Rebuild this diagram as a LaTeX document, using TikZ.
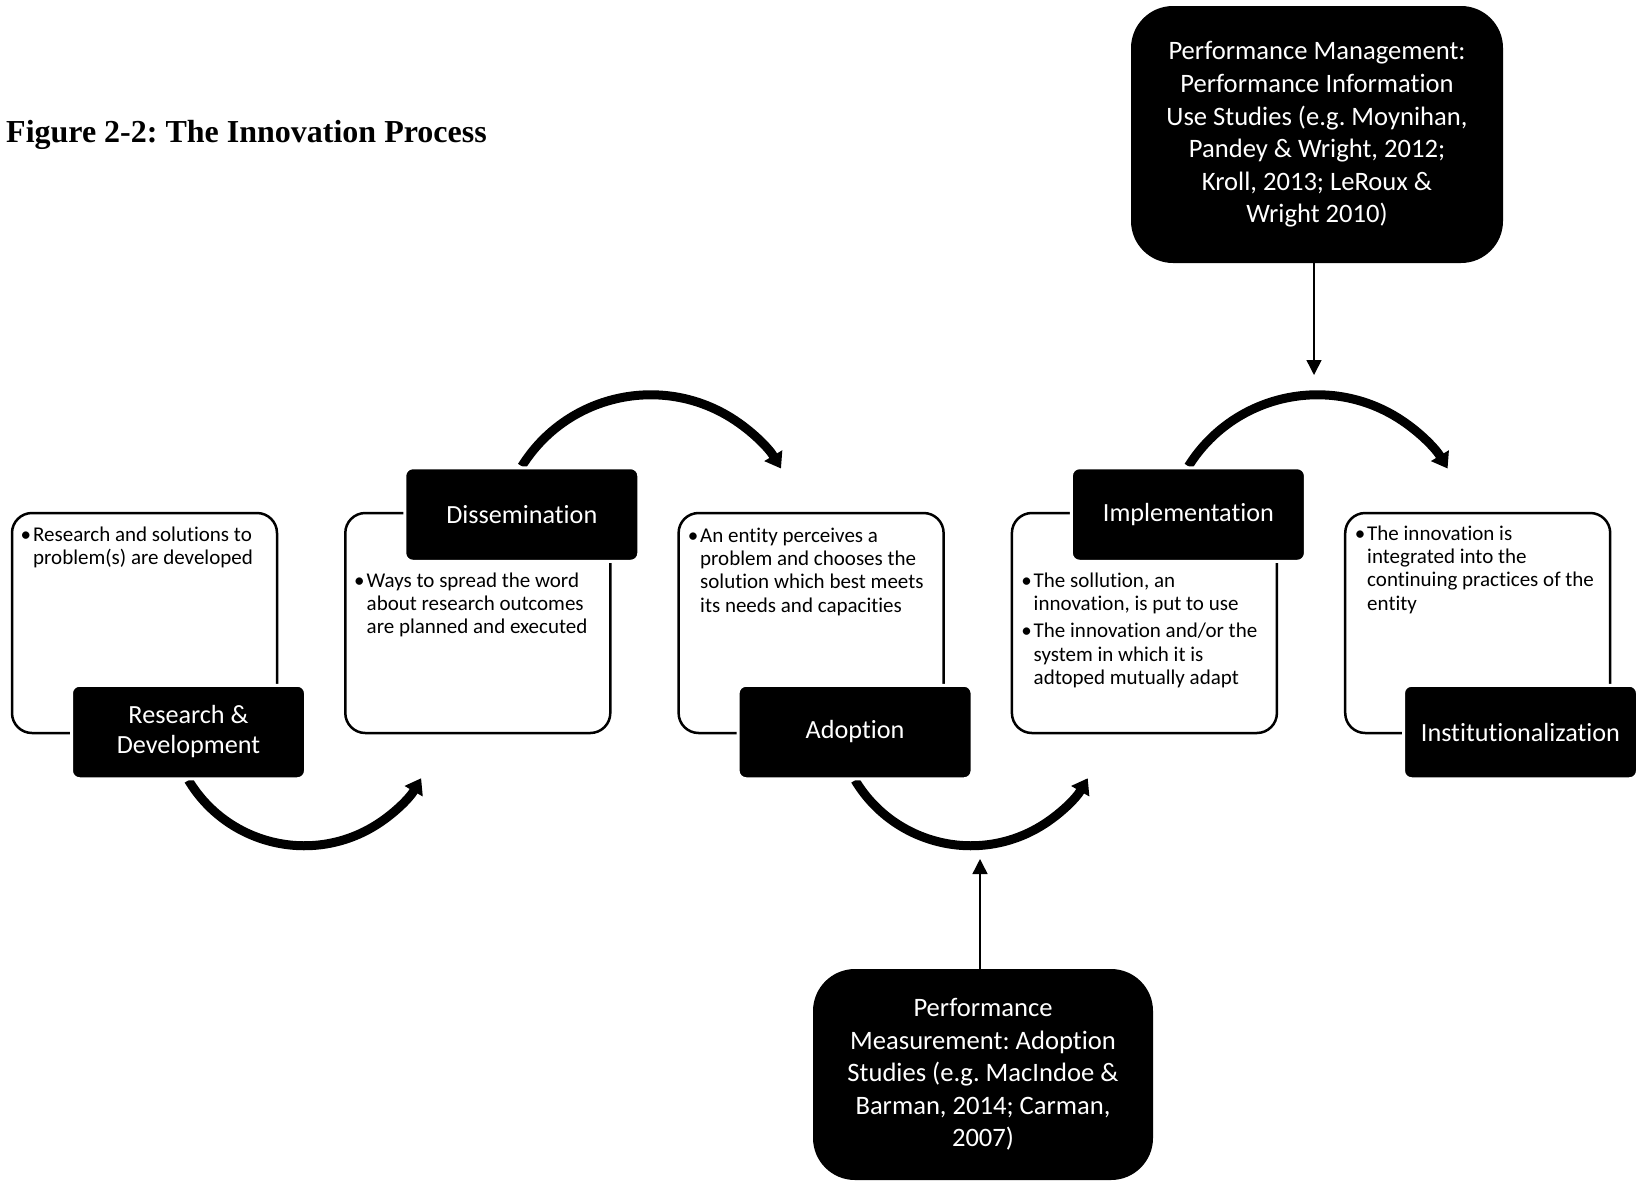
\documentclass[tikz,border=0pt]{standalone}
\usepackage{fontspec}
\setmainfont{Carlito}[Ligatures=NoCommon]
\newfontfamily\titleserif{Liberation Serif}
\usetikzlibrary{arrows.meta,backgrounds}
\newcommand\stagebullet{\llap{•\hspace{2pt}}}
\frenchspacing
\begin{document}
\begin{tikzpicture}[x={(1pt,0pt)}, y={(0pt,-1pt)},
  stagebox/.style={draw=black, line width=2.5pt, rounded corners=20pt, minimum width=265pt, minimum height=220pt, inner sep=0pt},
  stagelabel/.style={fill=black, draw=white, line width=3pt, rounded corners=8pt, minimum width=234pt, minimum height=93.5pt, text=white, align=center, font=\fontsize{26.2}{30}\selectfont, inner sep=0pt},
  bodytext/.style={anchor=north west, inner sep=0pt, font=\fontsize{21}{23.3}\selectfont},
  bigbox/.style={fill=black, rounded corners=42pt, text=white, align=center, font=\fontsize{26.6}{32.6}\selectfont, inner sep=0pt},
  flowarrow/.style={line width=9pt, -{Triangle[width=20pt,length=15pt]}},
  thinarrow/.style={line width=1.5pt, -{Triangle[width=15pt,length=15pt]}}
]
\useasboundingbox (0,0) rectangle (1637,1184);

% title
\node[anchor=base west, inner sep=0pt, font={\titleserif\bfseries\fontsize{32}{38}\selectfont}] (title) at (6,142) {Figure 2-2: The Innovation Process};

% white stage boxes
\node[stagebox] (rdbox) at (144.5,623) {};
\node[stagebox] (dibox) at (477.8,623) {};
\node[stagebox] (adbox) at (811.1,623) {};
\node[stagebox] (imbox) at (1144.4,623) {};
\node[stagebox] (inbox) at (1477.7,623) {};

% black labels
\node[stagelabel] (rd) at (188.5,732) {Research \&\\Development};
\node[stagelabel] (di) at (521.8,514.5) {Dissemination};
\node[stagelabel] (ad) at (855.1,732) {Adoption};
\node[stagelabel] (im) at (1188.4,514.5) {Implementation};
\node[stagelabel] (in) at (1520.5,732) {Institutionalization};

% body texts
\node[bodytext] (rdtext) at (33,524.7) {\begin{tabular}{@{}l@{}}\stagebullet Research and solutions to\\problem(s) are developed\end{tabular}};
\node[bodytext] (ditext) at (366.5,570.7) {\begin{tabular}{@{}l@{}}\stagebullet Ways to spread the word\\about research outcomes\\are planned and executed\end{tabular}};
\node[bodytext] (adtext) at (700,525.7) {\begin{tabular}{@{}l@{}}\stagebullet An entity perceives a\\problem and chooses the\\solution which best meets\\its needs and capacities\end{tabular}};
\node[bodytext] (imtext) at (1033.5,570.7) {\begin{tabular}{@{}l@{}}\stagebullet The sollution, an\\innovation, is put to use\\[4pt]\stagebullet The innovation and/or the\\system in which it is\\adtoped mutually adapt\end{tabular}};
\node[bodytext] (intext) at (1367,523.7) {\begin{tabular}{@{}l@{}}\stagebullet The innovation is\\integrated into the\\continuing practices of the\\entity\end{tabular}};

% flow arrows
\begin{pgfonlayer}{background}
\draw[flowarrow] (rd.south) arc[start angle=211, end angle=330, radius=135pt];
\draw[flowarrow] (di.north) arc[start angle=148, end angle=31, radius=152pt];
\draw[flowarrow] (ad.south) arc[start angle=211, end angle=330, radius=135pt];
\draw[flowarrow] (im.north) arc[start angle=148, end angle=31, radius=152pt];
\end{pgfonlayer}

% performance boxes
\node[bigbox, minimum width=372pt, minimum height=257pt] (pm) at (1317,134.5) {Performance Management:\\Performance Information\\Use Studies (e.g. Moynihan,\\Pandey \& Wright, 2012;\\Kroll, 2013; LeRoux \&\\Wright 2010)};
\node[bigbox, minimum width=340pt, minimum height=211pt] (pa) at (983,1074.5) {Performance\\Measurement: Adoption\\Studies (e.g. MacIndoe \&\\Barman, 2014; Carman,\\2007)};

\coordinate (pmtip) at (1314,375);
\coordinate (patip) at (980,859);
\draw[thinarrow] ([xshift=-3pt]pm.south) -- (pmtip);
\draw[thinarrow] ([xshift=-3pt]pa.north) -- (patip);
\end{tikzpicture}
\end{document}
